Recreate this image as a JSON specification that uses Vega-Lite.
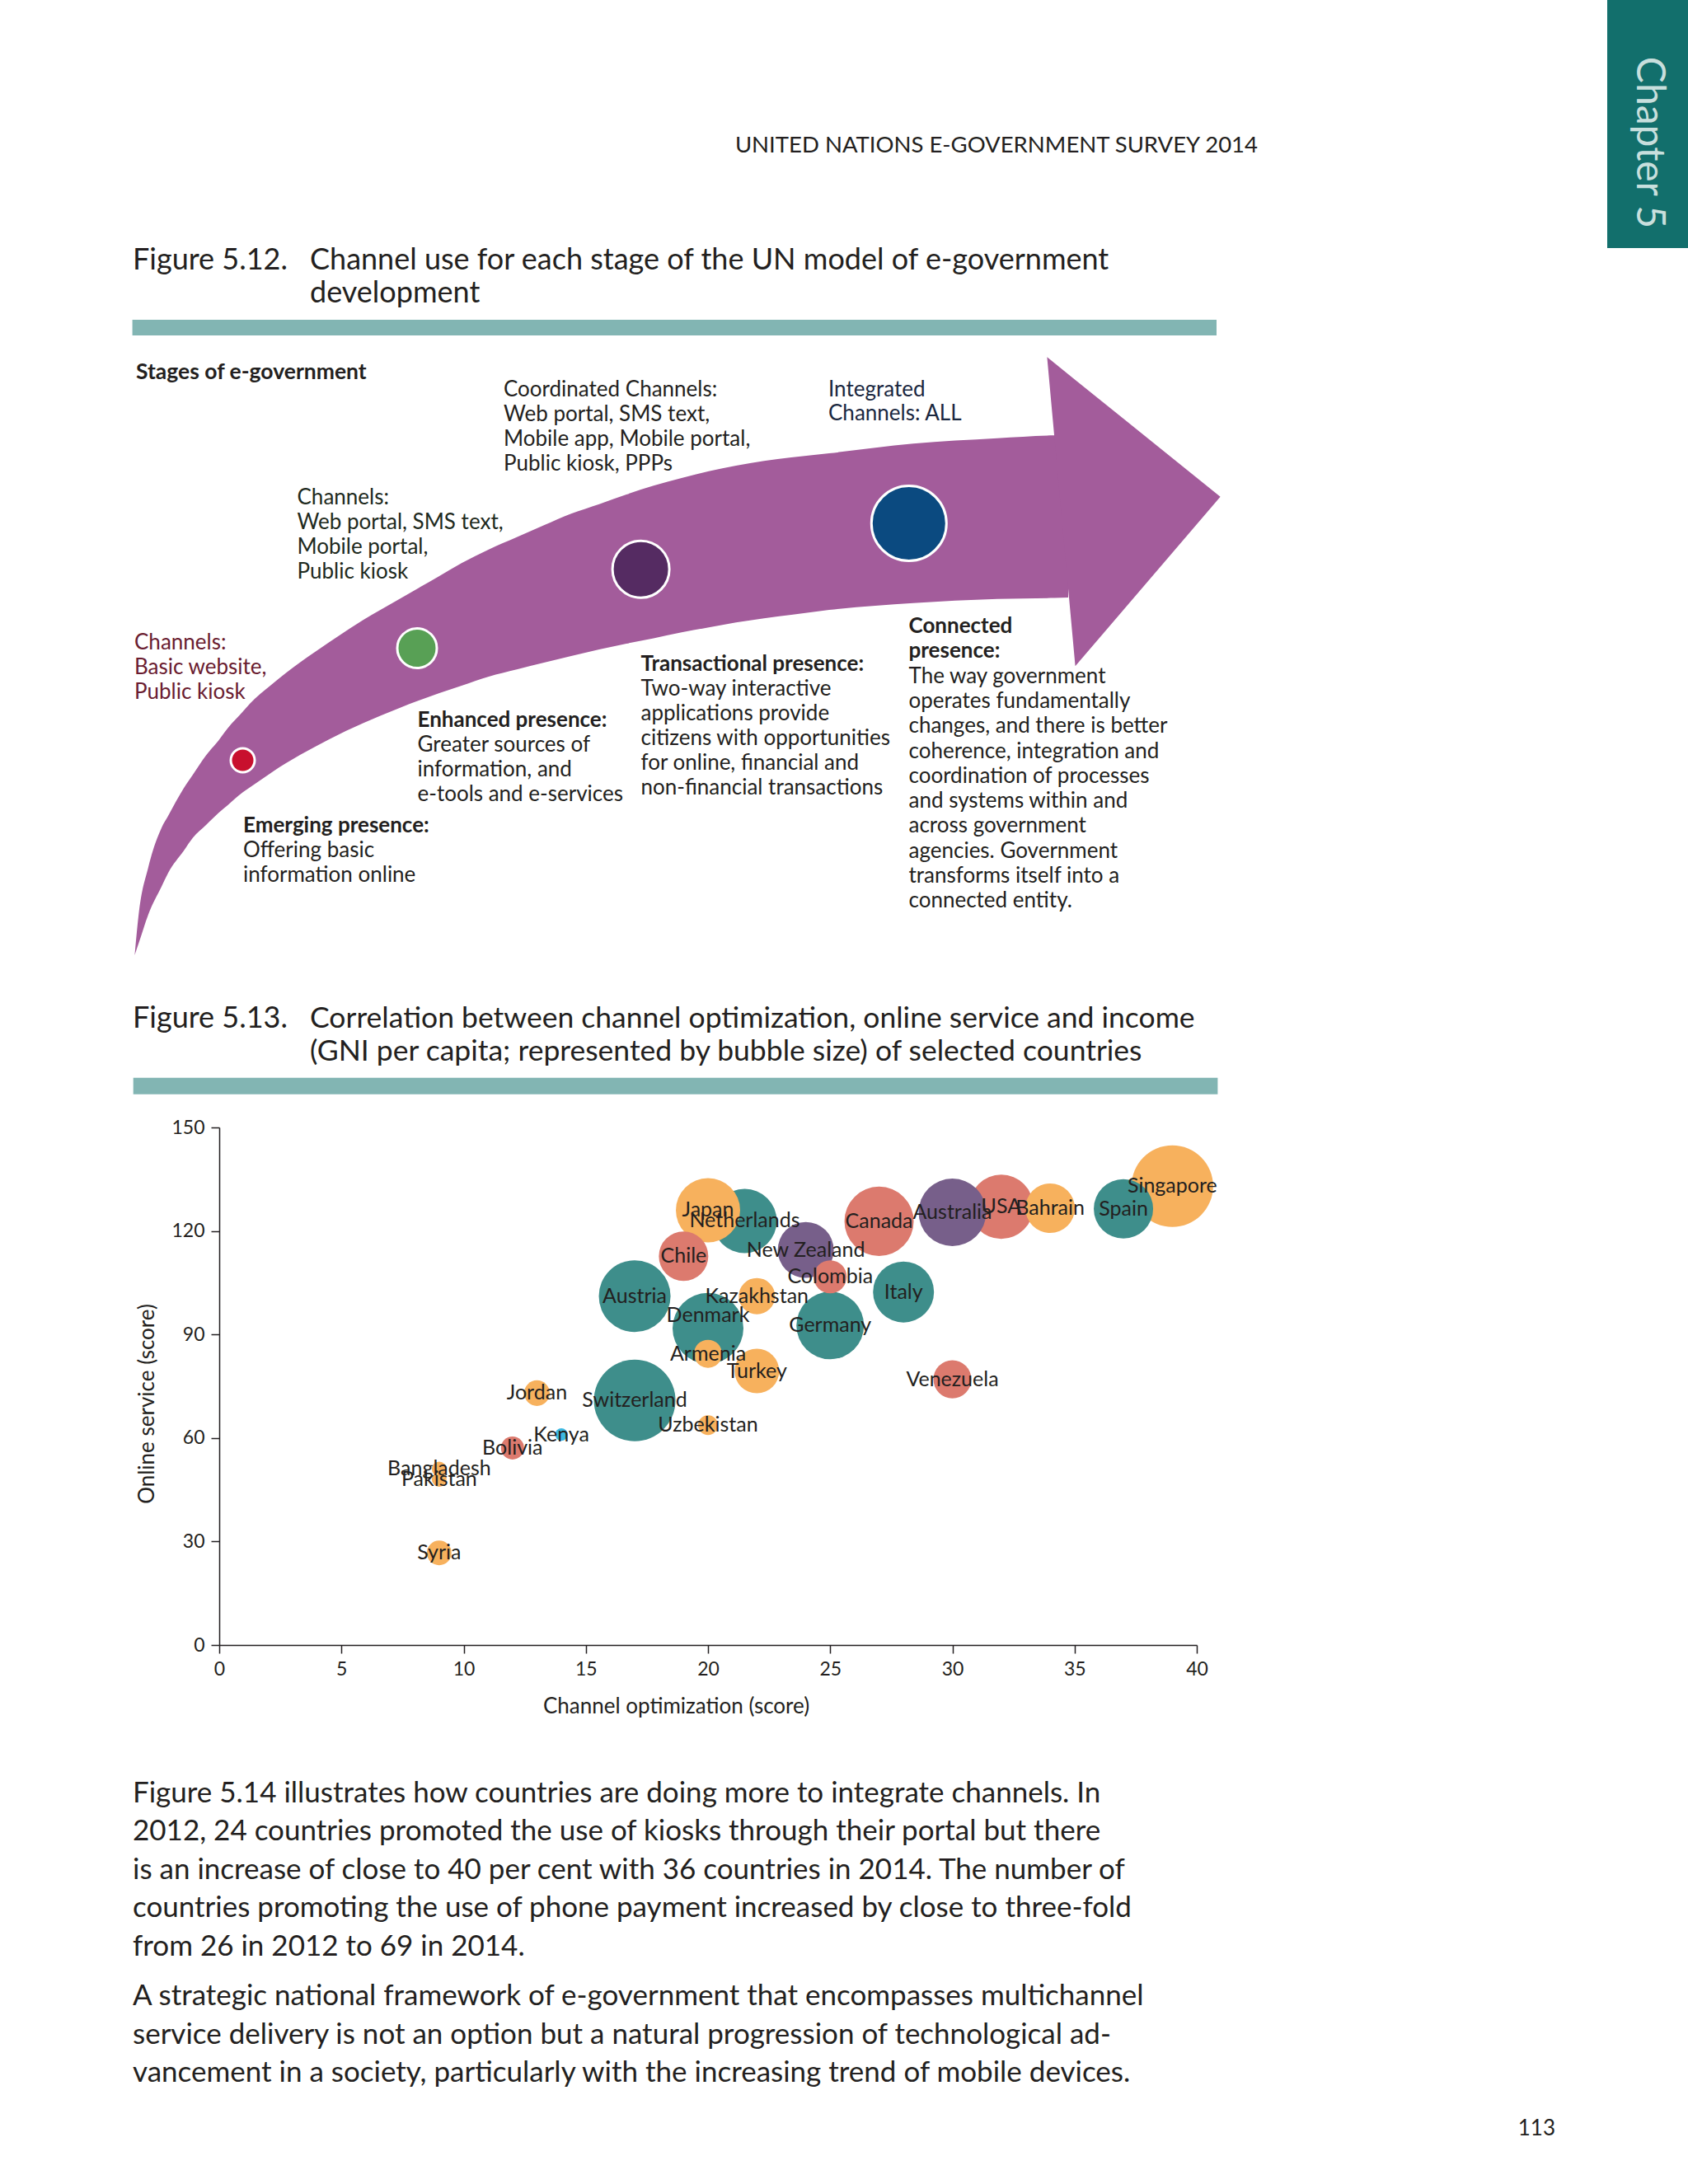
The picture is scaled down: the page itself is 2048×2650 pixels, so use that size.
{
  "$schema": "https://vega.github.io/schema/vega-lite/v6.json",
  "width": 2048,
  "height": 2650,
  "padding": 0,
  "autosize": {"type": "none"},
  "background": "#ffffff",
  "config": {"view": {"stroke": null}, "font": "Lato"},
  "datasets": {
    "countries": [
      {"country": "Switzerland", "region": "Europe", "channel": 17, "online": 70.9, "gni": 55000},
      {"country": "Singapore", "region": "Asia", "channel": 39, "online": 133, "gni": 55000},
      {"country": "Austria", "region": "Europe", "channel": 17, "online": 101.1, "gni": 42500},
      {"country": "Denmark", "region": "Europe", "channel": 20, "online": 91.8, "gni": 41500},
      {"country": "Canada", "region": "Americas", "channel": 27, "online": 122.8, "gni": 39600},
      {"country": "USA", "region": "Americas", "channel": 32, "online": 127, "gni": 34100},
      {"country": "Australia", "region": "Oceania", "channel": 30, "online": 125.4, "gni": 37700},
      {"country": "Germany", "region": "Europe", "channel": 25, "online": 92.6, "gni": 37700},
      {"country": "Netherlands", "region": "Europe", "channel": 21.5, "online": 122.9, "gni": 34100},
      {"country": "Japan", "region": "Asia", "channel": 20, "online": 126, "gni": 34100},
      {"country": "Italy", "region": "Europe", "channel": 28, "online": 102.3, "gni": 30700},
      {"country": "Spain", "region": "Europe", "channel": 37, "online": 126.4, "gni": 29100},
      {"country": "New Zealand", "region": "Oceania", "channel": 24, "online": 114.5, "gni": 25900},
      {"country": "Bahrain", "region": "Asia", "channel": 34, "online": 126.6, "gni": 20200},
      {"country": "Chile", "region": "Americas", "channel": 19, "online": 112.7, "gni": 20200},
      {"country": "Turkey", "region": "Asia", "channel": 22, "online": 79.4, "gni": 16400},
      {"country": "Venezuela", "region": "Americas", "channel": 30, "online": 77, "gni": 11900},
      {"country": "Kazakhstan", "region": "Asia", "channel": 22, "online": 101.1, "gni": 10900},
      {"country": "Colombia", "region": "Americas", "channel": 25, "online": 106.7, "gni": 9000},
      {"country": "Armenia", "region": "Asia", "channel": 20, "online": 84.4, "gni": 6500},
      {"country": "Jordan", "region": "Asia", "channel": 13, "online": 73, "gni": 5400},
      {"country": "Syria", "region": "Asia", "channel": 9, "online": 26.7, "gni": 5000},
      {"country": "Bolivia", "region": "Americas", "channel": 12, "online": 57.1, "gni": 4400},
      {"country": "Uzbekistan", "region": "Asia", "channel": 20, "online": 63.7, "gni": 3200},
      {"country": "Bangladesh", "region": "Asia", "channel": 9, "online": 51, "gni": 1800},
      {"country": "Pakistan", "region": "Asia", "channel": 9, "online": 48, "gni": 1800},
      {"country": "Kenya", "region": "Africa", "channel": 14, "online": 61, "gni": 1300}
    ],
    "stages": [
      {"stage": 1, "name": "Emerging presence"},
      {"stage": 2, "name": "Enhanced presence"},
      {"stage": 3, "name": "Transactional presence"},
      {"stage": 4, "name": "Connected presence"}
    ],
    "arrow_body": [
      {"along": 23.4, "upper": 739, "lower": 739},
      {"along": 28, "upper": 691.5, "lower": 725.3},
      {"along": 40, "upper": 632.1, "lower": 689.4},
      {"along": 56, "upper": 584.4, "lower": 655.7},
      {"along": 64, "upper": 570, "lower": 639.2},
      {"along": 83, "upper": 536.3, "lower": 612.3},
      {"along": 94, "upper": 520, "lower": 596.6},
      {"along": 110, "upper": 496.4, "lower": 581},
      {"along": 125, "upper": 478.7, "lower": 566.4},
      {"along": 136, "upper": 464, "lower": 557.2},
      {"along": 155, "upper": 443, "lower": 541.1},
      {"along": 163, "upper": 434, "lower": 535.6},
      {"along": 190, "upper": 410.3, "lower": 516.9},
      {"along": 224, "upper": 383.8, "lower": 496.1},
      {"along": 259, "upper": 359.5, "lower": 477.2},
      {"along": 301, "upper": 332, "lower": 457.3},
      {"along": 343, "upper": 307.7, "lower": 439.7},
      {"along": 393, "upper": 279, "lower": 421},
      {"along": 420, "upper": 263.3, "lower": 412},
      {"along": 453, "upper": 246.7, "lower": 401},
      {"along": 487, "upper": 231.7, "lower": 392.3},
      {"along": 520, "upper": 217.3, "lower": 384},
      {"along": 553, "upper": 203.3, "lower": 376},
      {"along": 587, "upper": 191.7, "lower": 368},
      {"along": 620, "upper": 180, "lower": 361},
      {"along": 653, "upper": 169.3, "lower": 354.5},
      {"along": 687, "upper": 160, "lower": 347.2},
      {"along": 720, "upper": 151.7, "lower": 341.2},
      {"along": 753, "upper": 145, "lower": 335.3},
      {"along": 787, "upper": 139.3, "lower": 330.3},
      {"along": 820, "upper": 135, "lower": 326},
      {"along": 866, "upper": 130, "lower": 320},
      {"along": 968, "upper": 118.3, "lower": 311.7},
      {"along": 1070, "upper": 111.7, "lower": 306.7},
      {"along": 1139, "upper": 108.3, "lower": 305.5},
      {"along": 1156, "upper": 108, "lower": 305}
    ],
    "arrow_head": [
      {"along": 1130.4, "upper": 13.3, "lower": 13.3},
      {"along": 1164.6, "upper": 40.9, "lower": 388.3},
      {"along": 1340.6, "upper": 182.7, "lower": 182.7}
    ],
    "page_text": [
      {"block": "header", "line": 1, "kind": "body", "text": "UNITED NATIONS E-GOVERNMENT SURVEY 2014"},
      {"block": "tab", "line": 1, "kind": "body", "text": "Chapter 5"},
      {"block": "fig512_label", "line": 1, "kind": "body", "text": "Figure 5.12."},
      {"block": "fig512", "line": 1, "kind": "body", "text": "Channel use for each stage of the UN model of e-government"},
      {"block": "fig512", "line": 2, "kind": "body", "text": "development"},
      {"block": "stages_title", "line": 1, "kind": "heading", "text": "Stages of e-government"},
      {"block": "ch_basic", "line": 1, "kind": "body", "text": "Channels:"},
      {"block": "ch_basic", "line": 2, "kind": "body", "text": "Basic website,"},
      {"block": "ch_basic", "line": 3, "kind": "body", "text": "Public kiosk"},
      {"block": "ch_web", "line": 1, "kind": "body", "text": "Channels:"},
      {"block": "ch_web", "line": 2, "kind": "body", "text": "Web portal, SMS text,"},
      {"block": "ch_web", "line": 3, "kind": "body", "text": "Mobile portal,"},
      {"block": "ch_web", "line": 4, "kind": "body", "text": "Public kiosk"},
      {"block": "ch_coord", "line": 1, "kind": "body", "text": "Coordinated Channels:"},
      {"block": "ch_coord", "line": 2, "kind": "body", "text": "Web portal, SMS text,"},
      {"block": "ch_coord", "line": 3, "kind": "body", "text": "Mobile app, Mobile portal,"},
      {"block": "ch_coord", "line": 4, "kind": "body", "text": "Public kiosk, PPPs"},
      {"block": "ch_integ", "line": 1, "kind": "body", "text": "Integrated"},
      {"block": "ch_integ", "line": 2, "kind": "body", "text": "Channels: ALL"},
      {"block": "st_emerging", "line": 1, "kind": "heading", "text": "Emerging presence:"},
      {"block": "st_emerging", "line": 2, "kind": "body", "text": "Offering basic"},
      {"block": "st_emerging", "line": 3, "kind": "body", "text": "information online"},
      {"block": "st_enhanced", "line": 1, "kind": "heading", "text": "Enhanced presence:"},
      {"block": "st_enhanced", "line": 2, "kind": "body", "text": "Greater sources of"},
      {"block": "st_enhanced", "line": 3, "kind": "body", "text": "information, and"},
      {"block": "st_enhanced", "line": 4, "kind": "body", "text": "e-tools and e-services"},
      {"block": "st_trans", "line": 1, "kind": "heading", "text": "Transactional presence:"},
      {"block": "st_trans", "line": 2, "kind": "body", "text": "Two-way interactive"},
      {"block": "st_trans", "line": 3, "kind": "body", "text": "applications provide"},
      {"block": "st_trans", "line": 4, "kind": "body", "text": "citizens with opportunities"},
      {"block": "st_trans", "line": 5, "kind": "body", "text": "for online, financial and"},
      {"block": "st_trans", "line": 6, "kind": "body", "text": "non-financial transactions"},
      {"block": "st_connected", "line": 1, "kind": "heading", "text": "Connected"},
      {"block": "st_connected", "line": 2, "kind": "heading", "text": "presence:"},
      {"block": "st_connected", "line": 3, "kind": "body", "text": "The way government"},
      {"block": "st_connected", "line": 4, "kind": "body", "text": "operates fundamentally"},
      {"block": "st_connected", "line": 5, "kind": "body", "text": "changes, and there is better"},
      {"block": "st_connected", "line": 6, "kind": "body", "text": "coherence, integration and"},
      {"block": "st_connected", "line": 7, "kind": "body", "text": "coordination of processes"},
      {"block": "st_connected", "line": 8, "kind": "body", "text": "and systems within and"},
      {"block": "st_connected", "line": 9, "kind": "body", "text": "across government"},
      {"block": "st_connected", "line": 10, "kind": "body", "text": "agencies. Government"},
      {"block": "st_connected", "line": 11, "kind": "body", "text": "transforms itself into a"},
      {"block": "st_connected", "line": 12, "kind": "body", "text": "connected entity."},
      {"block": "fig513_label", "line": 1, "kind": "body", "text": "Figure 5.13."},
      {"block": "fig513", "line": 1, "kind": "body", "text": "Correlation between channel optimization, online service and income"},
      {"block": "fig513", "line": 2, "kind": "body", "text": "(GNI per capita; represented by bubble size) of selected countries"},
      {"block": "body1", "line": 1, "kind": "body", "text": "Figure 5.14 illustrates how countries are doing more to integrate channels. In"},
      {"block": "body1", "line": 2, "kind": "body", "text": "2012, 24 countries promoted the use of kiosks through their portal but there"},
      {"block": "body1", "line": 3, "kind": "body", "text": "is an increase of close to 40 per cent with 36 countries in 2014. The number of"},
      {"block": "body1", "line": 4, "kind": "body", "text": "countries promoting the use of phone payment increased by close to three-fold"},
      {"block": "body1", "line": 5, "kind": "body", "text": "from 26 in 2012 to 69 in 2014."},
      {"block": "body2", "line": 1, "kind": "body", "text": "A strategic national framework of e-government that encompasses multichannel"},
      {"block": "body2", "line": 2, "kind": "body", "text": "service delivery is not an option but a natural progression of technological ad-"},
      {"block": "body2", "line": 3, "kind": "body", "text": "vancement in a society, particularly with the increasing trend of mobile devices."},
      {"block": "page", "line": 1, "kind": "body", "text": "113"}
    ]
  },
  "resolve": {"scale": {"x": "independent", "y": "independent", "color": "independent", "size": "independent"}},
  "layer": [
    {
      "data": {"values": [{"tab": "Chapter 5"}]},
      "mark": {"type": "rect", "color": "#126f6c"},
      "encoding": {
        "x": {"datum": 0, "type": "quantitative", "scale": {"domain": [0, 1], "range": [1950, 2048]}, "axis": null},
        "x2": {"datum": 1},
        "y": {"datum": 0, "type": "quantitative", "scale": {"domain": [0, 1], "range": [0, 301]}, "axis": null},
        "y2": {"datum": 1}
      }
    },
    {
      "data": {"name": "page_text"},
      "transform": [{"filter": "datum.block === 'tab'"}],
      "mark": {"type": "text", "angle": 90, "align": "center", "baseline": "middle", "fontSize": 48, "color": "#c8dfdd"},
      "encoding": {
        "x": {"datum": 0, "type": "quantitative", "scale": {"domain": [0, 1], "range": [2000, 2001]}, "axis": null},
        "y": {"datum": 0, "type": "quantitative", "scale": {"domain": [0, 1], "range": [173, 174]}, "axis": null},
        "text": {"field": "text"}
      }
    },
    {
      "data": {"name": "page_text"},
      "transform": [{"filter": "datum.block === 'header'"}],
      "mark": {"type": "text", "align": "right", "baseline": "alphabetic", "fontSize": 27.5, "color": "#231f20"},
      "encoding": {
        "x": {"datum": 0, "type": "quantitative", "scale": {"domain": [0, 1], "range": [1526, 1527]}, "axis": null},
        "y": {"field": "line", "type": "quantitative", "scale": {"domain": [1, 2], "range": [185, 215]}, "axis": null},
        "text": {"field": "text"}
      }
    },
    {
      "data": {"name": "page_text"},
      "transform": [{"filter": "datum.block === 'fig512_label'"}],
      "mark": {"type": "text", "align": "left", "baseline": "alphabetic", "fontSize": 36, "color": "#231f20"},
      "encoding": {
        "x": {"datum": 0, "type": "quantitative", "scale": {"domain": [0, 1], "range": [161, 162]}, "axis": null},
        "y": {"field": "line", "type": "quantitative", "scale": {"domain": [1, 2], "range": [327, 367]}, "axis": null},
        "text": {"field": "text"}
      }
    },
    {
      "data": {"name": "page_text"},
      "transform": [{"filter": "datum.block === 'fig512'"}],
      "mark": {"type": "text", "align": "left", "baseline": "alphabetic", "fontSize": 36, "color": "#231f20"},
      "encoding": {
        "x": {"datum": 0, "type": "quantitative", "scale": {"domain": [0, 1], "range": [376, 377]}, "axis": null},
        "y": {"field": "line", "type": "quantitative", "scale": {"domain": [1, 2], "range": [327, 367]}, "axis": null},
        "text": {"field": "text"}
      }
    },
    {
      "data": {"values": [{"figure": "5.12"}]},
      "mark": {"type": "rect", "color": "#82b5b3"},
      "encoding": {
        "x": {"datum": 0, "type": "quantitative", "scale": {"domain": [0, 1], "range": [160.6, 1476]}, "axis": null},
        "x2": {"datum": 1},
        "y": {"datum": 0, "type": "quantitative", "scale": {"domain": [0, 1], "range": [388, 407]}, "axis": null},
        "y2": {"datum": 1}
      }
    },
    {
      "encoding": {
        "x": {"field": "along", "type": "quantitative", "scale": {"domain": [0, 1400], "range": [140, 1540]}, "axis": null},
        "y": {"field": "upper", "type": "quantitative", "scale": {"domain": [0, 800], "range": [420, 1220]}, "axis": null},
        "y2": {"field": "lower"}
      },
      "layer": [
        {"data": {"name": "arrow_body"}, "mark": {"type": "area", "color": "#a35c9b", "interpolate": "monotone"}},
        {"data": {"name": "arrow_head"}, "mark": {"type": "area", "color": "#a35c9b", "interpolate": "linear"}}
      ]
    },
    {
      "data": {"name": "stages"},
      "mark": {"type": "circle", "opacity": 1, "stroke": "#ffffff", "strokeWidth": 3},
      "encoding": {
        "x": {"field": "stage", "type": "quantitative", "scale": {"domain": [1, 2, 3, 4], "range": [294.5, 506, 777.6, 1102.8]}, "axis": null},
        "y": {"field": "stage", "type": "quantitative", "scale": {"domain": [1, 2, 3, 4], "range": [922.5, 786.5, 690.7, 635]}, "axis": null},
        "size": {"field": "stage", "type": "quantitative", "scale": {"domain": [1, 2, 3, 4], "range": [841, 2304, 4761, 8281]}, "legend": null},
        "color": {"field": "name", "type": "nominal", "scale": {"domain": ["Emerging presence", "Enhanced presence", "Transactional presence", "Connected presence"], "range": ["#c8102e", "#58a055", "#552b62", "#0b4a80"]}, "legend": null}
      }
    },
    {
      "data": {"name": "page_text"},
      "transform": [{"filter": "datum.block === 'stages_title'"}],
      "mark": {"type": "text", "align": "left", "baseline": "alphabetic", "fontSize": 26.5, "fontWeight": "bold", "color": "#231f20"},
      "encoding": {
        "x": {"datum": 0, "type": "quantitative", "scale": {"domain": [0, 1], "range": [165, 166]}, "axis": null},
        "y": {"field": "line", "type": "quantitative", "scale": {"domain": [1, 2], "range": [459.5, 489.5]}, "axis": null},
        "text": {"field": "text"}
      }
    },
    {
      "data": {"name": "page_text"},
      "transform": [{"filter": "datum.block === 'ch_basic'"}],
      "mark": {"type": "text", "align": "left", "baseline": "alphabetic", "fontSize": 26, "color": "#6a1c30"},
      "encoding": {
        "x": {"datum": 0, "type": "quantitative", "scale": {"domain": [0, 1], "range": [163, 164]}, "axis": null},
        "y": {"field": "line", "type": "quantitative", "scale": {"domain": [1, 2], "range": [788, 818]}, "axis": null},
        "text": {"field": "text"}
      }
    },
    {
      "data": {"name": "page_text"},
      "transform": [{"filter": "datum.block === 'ch_web'"}],
      "mark": {"type": "text", "align": "left", "baseline": "alphabetic", "fontSize": 26, "color": "#1e2a20"},
      "encoding": {
        "x": {"datum": 0, "type": "quantitative", "scale": {"domain": [0, 1], "range": [360.5, 361.5]}, "axis": null},
        "y": {"field": "line", "type": "quantitative", "scale": {"domain": [1, 2], "range": [611.5, 641.5]}, "axis": null},
        "text": {"field": "text"}
      }
    },
    {
      "data": {"name": "page_text"},
      "transform": [{"filter": "datum.block === 'ch_coord'"}],
      "mark": {"type": "text", "align": "left", "baseline": "alphabetic", "fontSize": 26, "color": "#231f20"},
      "encoding": {
        "x": {"datum": 0, "type": "quantitative", "scale": {"domain": [0, 1], "range": [611, 612]}, "axis": null},
        "y": {"field": "line", "type": "quantitative", "scale": {"domain": [1, 2], "range": [481, 511]}, "axis": null},
        "text": {"field": "text"}
      }
    },
    {
      "data": {"name": "page_text"},
      "transform": [{"filter": "datum.block === 'ch_integ'"}],
      "mark": {"type": "text", "align": "left", "baseline": "alphabetic", "fontSize": 26, "color": "#1a2740"},
      "encoding": {
        "x": {"datum": 0, "type": "quantitative", "scale": {"domain": [0, 1], "range": [1005, 1006]}, "axis": null},
        "y": {"field": "line", "type": "quantitative", "scale": {"domain": [1, 2], "range": [481, 510]}, "axis": null},
        "text": {"field": "text"}
      }
    },
    {
      "data": {"name": "page_text"},
      "transform": [{"filter": "datum.block === 'st_emerging'"}],
      "encoding": {
        "x": {"datum": 0, "type": "quantitative", "scale": {"domain": [0, 1], "range": [295, 296]}, "axis": null},
        "y": {"field": "line", "type": "quantitative", "scale": {"domain": [1, 2], "range": [1009.7, 1039.9]}, "axis": null},
        "text": {"field": "text"}
      },
      "layer": [
        {"transform": [{"filter": "datum.kind === 'heading'"}], "mark": {"type": "text", "align": "left", "baseline": "alphabetic", "fontSize": 26, "fontWeight": "bold", "color": "#231f20"}},
        {"transform": [{"filter": "datum.kind === 'body'"}], "mark": {"type": "text", "align": "left", "baseline": "alphabetic", "fontSize": 26, "color": "#231f20"}}
      ]
    },
    {
      "data": {"name": "page_text"},
      "transform": [{"filter": "datum.block === 'st_enhanced'"}],
      "encoding": {
        "x": {"datum": 0, "type": "quantitative", "scale": {"domain": [0, 1], "range": [506.5, 507.5]}, "axis": null},
        "y": {"field": "line", "type": "quantitative", "scale": {"domain": [1, 2], "range": [881.5, 911.7]}, "axis": null},
        "text": {"field": "text"}
      },
      "layer": [
        {"transform": [{"filter": "datum.kind === 'heading'"}], "mark": {"type": "text", "align": "left", "baseline": "alphabetic", "fontSize": 26, "fontWeight": "bold", "color": "#231f20"}},
        {"transform": [{"filter": "datum.kind === 'body'"}], "mark": {"type": "text", "align": "left", "baseline": "alphabetic", "fontSize": 26, "color": "#231f20"}}
      ]
    },
    {
      "data": {"name": "page_text"},
      "transform": [{"filter": "datum.block === 'st_trans'"}],
      "encoding": {
        "x": {"datum": 0, "type": "quantitative", "scale": {"domain": [0, 1], "range": [777.5, 778.5]}, "axis": null},
        "y": {"field": "line", "type": "quantitative", "scale": {"domain": [1, 2], "range": [814, 844]}, "axis": null},
        "text": {"field": "text"}
      },
      "layer": [
        {"transform": [{"filter": "datum.kind === 'heading'"}], "mark": {"type": "text", "align": "left", "baseline": "alphabetic", "fontSize": 26, "fontWeight": "bold", "color": "#231f20"}},
        {"transform": [{"filter": "datum.kind === 'body'"}], "mark": {"type": "text", "align": "left", "baseline": "alphabetic", "fontSize": 26, "color": "#231f20"}}
      ]
    },
    {
      "data": {"name": "page_text"},
      "transform": [{"filter": "datum.block === 'st_connected'"}],
      "encoding": {
        "x": {"datum": 0, "type": "quantitative", "scale": {"domain": [0, 1], "range": [1102.5, 1103.5]}, "axis": null},
        "y": {"field": "line", "type": "quantitative", "scale": {"domain": [1, 2], "range": [768, 798.3]}, "axis": null},
        "text": {"field": "text"}
      },
      "layer": [
        {"transform": [{"filter": "datum.kind === 'heading'"}], "mark": {"type": "text", "align": "left", "baseline": "alphabetic", "fontSize": 26, "fontWeight": "bold", "color": "#231f20"}},
        {"transform": [{"filter": "datum.kind === 'body'"}], "mark": {"type": "text", "align": "left", "baseline": "alphabetic", "fontSize": 26, "color": "#231f20"}}
      ]
    },
    {
      "data": {"name": "page_text"},
      "transform": [{"filter": "datum.block === 'fig513_label'"}],
      "mark": {"type": "text", "align": "left", "baseline": "alphabetic", "fontSize": 36, "color": "#231f20"},
      "encoding": {
        "x": {"datum": 0, "type": "quantitative", "scale": {"domain": [0, 1], "range": [161, 162]}, "axis": null},
        "y": {"field": "line", "type": "quantitative", "scale": {"domain": [1, 2], "range": [1246.7, 1286.7]}, "axis": null},
        "text": {"field": "text"}
      }
    },
    {
      "data": {"name": "page_text"},
      "transform": [{"filter": "datum.block === 'fig513'"}],
      "mark": {"type": "text", "align": "left", "baseline": "alphabetic", "fontSize": 35.5, "color": "#231f20"},
      "encoding": {
        "x": {"datum": 0, "type": "quantitative", "scale": {"domain": [0, 1], "range": [376, 377]}, "axis": null},
        "y": {"field": "line", "type": "quantitative", "scale": {"domain": [1, 2], "range": [1246.7, 1286.7]}, "axis": null},
        "text": {"field": "text"}
      }
    },
    {
      "data": {"values": [{"figure": "5.13"}]},
      "mark": {"type": "rect", "color": "#82b5b3"},
      "encoding": {
        "x": {"datum": 0, "type": "quantitative", "scale": {"domain": [0, 1], "range": [161.7, 1477.4]}, "axis": null},
        "x2": {"datum": 1},
        "y": {"datum": 0, "type": "quantitative", "scale": {"domain": [0, 1], "range": [1307.7, 1327.7]}, "axis": null},
        "y2": {"datum": 1}
      }
    },
    {
      "data": {"name": "countries"},
      "encoding": {
        "x": {
          "field": "channel", "type": "quantitative", "title": "Channel optimization (score)",
          "scale": {"domain": [0, 40], "range": [266, 1452], "nice": false, "zero": false},
          "axis": {"values": [0, 5, 10, 15, 20, 25, 30, 35, 40], "offset": -654, "grid": false, "labelFlush": false, "tickSize": 10, "tickWidth": 1.5, "tickColor": "#231f20", "domainColor": "#231f20", "domainWidth": 1.5, "labelFont": "Lato", "labelFontSize": 23, "labelColor": "#231f20", "labelPadding": 8, "titleFont": "Lato", "titleFontSize": 26, "titleFontWeight": "normal", "titleColor": "#231f20", "titlePadding": 20, "titleX": 820}
        },
        "y": {
          "field": "online", "type": "quantitative", "title": "Online service (score)",
          "scale": {"domain": [0, 150], "range": [1996, 1368], "nice": false, "zero": false},
          "axis": {"values": [0, 30, 60, 90, 120, 150], "offset": -266, "grid": false, "tickSize": 10, "tickWidth": 1.5, "tickColor": "#231f20", "domainColor": "#231f20", "domainWidth": 1.5, "labelFont": "Lato", "labelFontSize": 23, "labelColor": "#231f20", "labelPadding": 8, "titleFont": "Lato", "titleFontSize": 26, "titleFontWeight": "normal", "titleColor": "#231f20", "titlePadding": 16, "titleY": 1703}
        }
      },
      "layer": [
        {
          "mark": {"type": "circle", "opacity": 1},
          "encoding": {
            "size": {"field": "gni", "type": "quantitative", "title": "GNI per capita", "scale": {"type": "linear", "domain": [0, 55000], "range": [0, 9801]}, "legend": null},
            "color": {"field": "region", "type": "nominal", "scale": {"domain": ["Europe", "Asia", "Americas", "Oceania", "Africa"], "range": ["#3e8e8b", "#f7b15d", "#dc7a6e", "#775f8a", "#3db8e1"]}, "legend": null}
          }
        },
        {
          "transform": [{"filter": "datum.country !== 'Denmark'"}],
          "mark": {"type": "text", "align": "center", "baseline": "middle", "fontSize": 25, "color": "#231f20"},
          "encoding": {"text": {"field": "country"}}
        },
        {
          "transform": [{"filter": "datum.country === 'Denmark'"}],
          "mark": {"type": "text", "align": "center", "baseline": "middle", "fontSize": 25, "color": "#231f20", "dy": -16},
          "encoding": {"text": {"field": "country"}}
        }
      ]
    },
    {
      "data": {"name": "page_text"},
      "transform": [{"filter": "datum.block === 'body1'"}],
      "mark": {"type": "text", "align": "left", "baseline": "alphabetic", "fontSize": 35, "color": "#231f20"},
      "encoding": {
        "x": {"datum": 0, "type": "quantitative", "scale": {"domain": [0, 1], "range": [161, 162]}, "axis": null},
        "y": {"field": "line", "type": "quantitative", "scale": {"domain": [1, 2], "range": [2186.5, 2233.1]}, "axis": null},
        "text": {"field": "text"}
      }
    },
    {
      "data": {"name": "page_text"},
      "transform": [{"filter": "datum.block === 'body2'"}],
      "mark": {"type": "text", "align": "left", "baseline": "alphabetic", "fontSize": 35, "color": "#231f20"},
      "encoding": {
        "x": {"datum": 0, "type": "quantitative", "scale": {"domain": [0, 1], "range": [161, 162]}, "axis": null},
        "y": {"field": "line", "type": "quantitative", "scale": {"domain": [1, 2], "range": [2433, 2479.6]}, "axis": null},
        "text": {"field": "text"}
      }
    },
    {
      "data": {"name": "page_text"},
      "transform": [{"filter": "datum.block === 'page'"}],
      "mark": {"type": "text", "align": "right", "baseline": "alphabetic", "fontSize": 26, "color": "#231f20"},
      "encoding": {
        "x": {"datum": 0, "type": "quantitative", "scale": {"domain": [0, 1], "range": [1887, 1888]}, "axis": null},
        "y": {"field": "line", "type": "quantitative", "scale": {"domain": [1, 2], "range": [2591, 2621]}, "axis": null},
        "text": {"field": "text"}
      }
    }
  ]
}
